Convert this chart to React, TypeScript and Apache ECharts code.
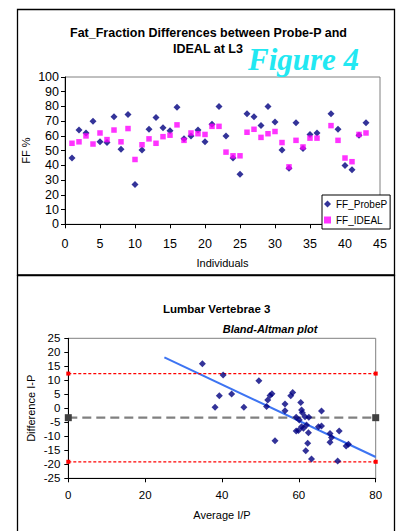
import React, { useEffect, useRef } from "react";
import * as echarts from "echarts";

// ---------- Top chart: Fat fraction per individual ----------
const individuals = [
  1, 2, 3, 4, 5, 6, 7, 8, 9, 10, 11, 12, 13, 14, 15, 16, 17, 18, 19, 20, 21,
  22, 23, 24, 25, 26, 27, 28, 29, 30, 31, 32, 33, 34, 35, 36, 38, 39, 40, 41,
  42, 43,
];
const ffProbeP = [
  45, 64, 62, 70, 56, 55.5, 73, 51, 74.5, 27, 50.5, 64.5, 72.5, 65.5, 63.5,
  79.5, 58, 60, 64, 56, 68, 80, 60, 45, 34, 75, 73, 67, 80, 69.5, 50.5, 38, 69,
  51.5, 61, 62, 75, 64.5, 40, 37, 60.5, 69,
];
const ffIdeal = [
  55, 56, 60, 54.5, 62, 57.5, 64, 56, 65, 44, 54, 58, 55, 59.5, 60.5, 67.5, 57,
  62, 61.5, 61, 66.5, 66.5, 49, 46.5, 46.5, 62.5, 64.5, 59, 61.5, 63, 55.5, 39,
  57, 52.5, 58.5, 58.5, 67, 57, 45, 42.5, 61, 62,
];

// ---------- Bottom chart: Bland-Altman ----------
const baAverage = [
  34.9, 40.3, 49.6, 39.3, 42.5, 38.2, 45.7, 51.6, 51.9, 52.5, 53.0, 56.4, 56.4,
  57.9, 58.4, 60.5, 60.7, 60.9, 59.3, 61.6, 62.6, 60.1, 59.3, 59.9, 60.7, 61.2,
  62.5, 65.1, 65.9, 65.9, 62.3, 61.8, 63.3, 53.8, 68.1, 68.5, 68.1, 70.5, 70.1,
  72.3, 72.9, 62.0,
];
const baDifference = [
  15.9, 11.9, 9.8, 4.5, 5.1, 0.4, 0.4, 0.6, 3.0, 4.6, 5.2, 1.5, -0.9, 4.5, 5.6,
  2.1, -0.6, -1.6, -3.2, -3.0, -3.2, -4.2, -8.1, -7.9, -6.6, -7.1, -8.7, -6.6,
  -6.3, -1.0, -12.5, -15.2, -18.1, -11.6, -9.0, -10.4, -12.1, -8.1, -18.8,
  -13.5, -12.8, -6.0,
];
const limitX = [0, 80];
const meanDiff = -3.35;
const upperLoA = 12.4;
const lowerLoA = -19.1;
const trendX = [25, 80];
const trendY = [18.2, -17.4];

const FONT = '"Liberation Sans", Arial, sans-serif';

function axisCommon(fontSize: number, margin: number) {
  return {
    type: "value" as const,
    nameMoveOverlap: false,
    axisLine: { show: true, onZero: false, lineStyle: { color: "#000", width: 1 } },
    axisTick: { show: true, length: 4, lineStyle: { color: "#000" } },
    axisLabel: { fontSize, color: "#000", margin, fontFamily: FONT },
    splitLine: { show: false },
    nameTextStyle: { fontSize: 11, color: "#000", fontFamily: FONT },
  };
}

export default function App() {
  const ref = useRef<HTMLDivElement>(null);
  useEffect(() => {
    if (!ref.current) return;
    const chart = echarts.init(ref.current, undefined, { renderer: "svg" });
    const option: any = {
      animation: false,
      backgroundColor: "#fff",
      textStyle: { fontFamily: FONT },
      grid: [
        {
          left: 65,
          top: 77,
          width: 315,
          height: 147.3,
          show: true,
          borderColor: "#808080",
          borderWidth: 1,
          backgroundColor: "transparent",
        },
        {
          left: 68.3,
          top: 338.3,
          width: 307.4,
          height: 140,
          show: true,
          borderColor: "#808080",
          borderWidth: 1,
          backgroundColor: "transparent",
        },
      ],
      xAxis: [
        {
          ...axisCommon(12.5, 13),
          gridIndex: 0,
          min: 0,
          max: 45,
          interval: 5,
          name: "Individuals",
          nameLocation: "middle",
          nameGap: 33,
        },
        {
          ...axisCommon(11.5, 11),
          gridIndex: 1,
          min: 0,
          max: 80,
          interval: 20,
          name: "Average I/P",
          nameLocation: "middle",
          nameGap: 31,
        },
      ],
      yAxis: [
        {
          ...axisCommon(12.5, 6),
          gridIndex: 0,
          min: 0,
          max: 100,
          interval: 10,
          name: "FF %",
          nameLocation: "middle",
          nameGap: 34,
        },
        {
          ...axisCommon(11.5, 8),
          gridIndex: 1,
          min: -25,
          max: 25,
          interval: 5,
          name: "Difference I-P",
          nameLocation: "middle",
          nameGap: 32,
        },
      ],
      legend: {
        data: [
          { name: "FF_ProbeP", icon: "diamond" },
          { name: "FF_IDEAL", icon: "rect" },
        ],
        orient: "vertical",
        left: 322,
        top: 195,
        padding: [4, 3, 4, 2],
        itemGap: 6,
        itemWidth: 7,
        itemHeight: 7,
        backgroundColor: "#fff",
        borderColor: "#000",
        borderWidth: 1,
        borderRadius: 0,
        textStyle: { fontSize: 10, color: "#000", fontFamily: FONT },
        selectedMode: false,
        z: 20,
      },
      series: [
        {
          name: "FF_ProbeP",
          type: "scatter",
          xAxisIndex: 0,
          yAxisIndex: 0,
          symbol: "diamond",
          symbolSize: 7,
          itemStyle: { color: "#000080" },
          data: individuals.map((d, i) => [d, ffProbeP[i]]),
        },
        {
          name: "FF_IDEAL",
          type: "scatter",
          xAxisIndex: 0,
          yAxisIndex: 0,
          symbol: "rect",
          symbolSize: 5.5,
          itemStyle: { color: "#FF00FF" },
          data: individuals.map((d, i) => [d, ffIdeal[i]]),
        },
        {
          name: "Trend",
          type: "line",
          xAxisIndex: 1,
          yAxisIndex: 1,
          symbol: "none",
          lineStyle: { color: "#3D74F2", width: 2 },
          data: trendX.map((x, i) => [x, trendY[i]]),
        },
        {
          name: "Upper",
          type: "line",
          xAxisIndex: 1,
          yAxisIndex: 1,
          clip: false,
          symbol: "rect",
          symbolSize: 4,
          itemStyle: { color: "#FF0000" },
          lineStyle: { color: "#FF0000", width: 1.3, type: [3, 2] },
          data: limitX.map((x) => [x, upperLoA]),
        },
        {
          name: "Lower",
          type: "line",
          xAxisIndex: 1,
          yAxisIndex: 1,
          clip: false,
          symbol: "rect",
          symbolSize: 4,
          itemStyle: { color: "#FF0000" },
          lineStyle: { color: "#FF0000", width: 1.3, type: [3, 2] },
          data: limitX.map((x) => [x, lowerLoA]),
        },
        {
          name: "Mean",
          type: "line",
          xAxisIndex: 1,
          yAxisIndex: 1,
          clip: false,
          symbol: "rect",
          symbolSize: 7,
          itemStyle: { color: "#404040" },
          lineStyle: { color: "#808080", width: 2.3, type: [9, 5] },
          data: limitX.map((x) => [x, meanDiff]),
        },
        {
          name: "Bland-Altman",
          type: "scatter",
          xAxisIndex: 1,
          yAxisIndex: 1,
          symbol: "diamond",
          symbolSize: 7,
          itemStyle: { color: "#000080" },
          data: baAverage.map((a, i) => [a, baDifference[i]]),
          z: 5,
        },
      ],
      graphic: [
        {
          type: "rect",
          silent: true,
          z: 50,
          shape: { x: 17.5, y: 9.5, width: 377, height: 265.5 },
          style: { fill: "none", stroke: "#000", lineWidth: 1.3 },
        },
        {
          type: "rect",
          silent: true,
          z: 50,
          shape: { x: 17.5, y: 275.5, width: 377, height: 270 },
          style: { fill: "none", stroke: "#000", lineWidth: 1.3 },
        },
        {
          type: "text",
          z: 50,
          style: {
            text: "Fat_Fraction Differences between Probe-P and",
            x: 208.5,
            y: 32.5,
            align: "center",
            textAlign: "center",
            verticalAlign: "middle",
            textVerticalAlign: "middle",
            font: `bold 12.5px ${FONT}`,
            fill: "#000",
          },
        },
        {
          type: "text",
          z: 50,
          style: {
            text: "IDEAL at L3",
            x: 208,
            y: 49,
            align: "center",
            textAlign: "center",
            verticalAlign: "middle",
            textVerticalAlign: "middle",
            font: `bold 12.5px ${FONT}`,
            fill: "#000",
          },
        },
        {
          type: "text",
          z: 50,
          style: {
            text: "Figure 4",
            x: 248,
            y: 59,
            align: "left",
            textAlign: "left",
            verticalAlign: "middle",
            textVerticalAlign: "middle",
            font: `italic bold 31px "Liberation Serif", "Times New Roman", serif`,
            fill: "#22E8F2",
          },
        },
        {
          type: "text",
          z: 50,
          style: {
            text: "Lumbar Vertebrae 3",
            x: 216.7,
            y: 309.3,
            align: "center",
            textAlign: "center",
            verticalAlign: "middle",
            textVerticalAlign: "middle",
            font: `bold 11.5px ${FONT}`,
            fill: "#000",
          },
        },
        {
          type: "text",
          z: 50,
          style: {
            text: "Bland-Altman plot",
            x: 222.7,
            y: 329,
            align: "left",
            textAlign: "left",
            verticalAlign: "middle",
            textVerticalAlign: "middle",
            font: `italic bold 11px ${FONT}`,
            fill: "#000",
          },
        },
      ],
    };
    chart.setOption(option);
    return () => chart.dispose();
  }, []);
  return (
    <div
      ref={ref}
      style={{ position: "absolute", left: 0, top: 0, width: 403, height: 531 }}
    />
  );
}
